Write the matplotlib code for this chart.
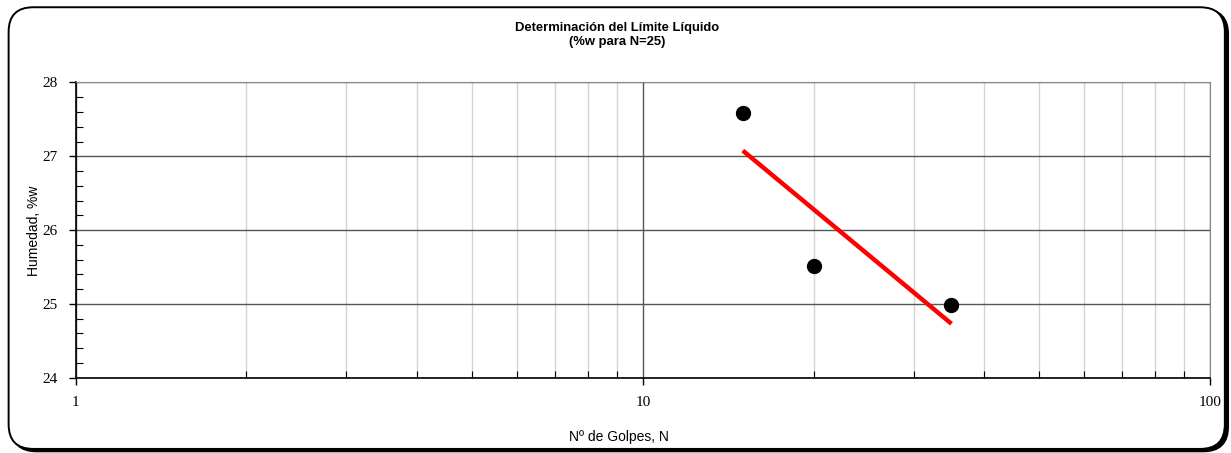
import numpy as np
import matplotlib
matplotlib.use("Agg")
import matplotlib.pyplot as plt
from matplotlib.patches import FancyBboxPatch
from matplotlib.ticker import LogLocator, MultipleLocator, FixedLocator, NullFormatter

# datos del ensayo
golpes = [15, 20, 35]
humedad = [27.58, 25.52, 24.99]

titulo = "Determinación del Límite Líquido\n(%w para N=25)"
x_label = "Nº de Golpes, N"
y_label = "Humedad, %w"

# recta de ajuste en escala log
pend, orden = np.polyfit(np.log10(golpes), humedad, 1)
n_recta = np.array([min(golpes), max(golpes)])
w_recta = pend * np.log10(n_recta) + orden

fig = plt.figure(figsize=(12.31, 4.53), dpi=100)

# marco redondeado del grafico (con sombra abajo/derecha)
sombra = FancyBboxPatch((0.0095, 0.004), 0.988, 0.975, transform=fig.transFigure,
                        boxstyle="round,pad=0,rounding_size=0.02", fc="black",
                        ec="black", lw=1.6, mutation_aspect=1231 / 453, zorder=-2)
marco = FancyBboxPatch((0.007, 0.009), 0.988, 0.975, transform=fig.transFigure,
                       boxstyle="round,pad=0,rounding_size=0.02", fc="white",
                       ec="black", lw=1.4, mutation_aspect=1231 / 453, zorder=-1)
fig.patches.extend([sombra, marco])

ax = fig.add_axes([0.0615, 0.166, 0.9215, 0.652])
ax.set_zorder(1)
ax.patch.set_alpha(0)
ax.set_xscale("log")
ax.set_xlim(1, 100)
ax.set_ylim(24, 28)

ax.xaxis.set_major_locator(FixedLocator([1, 10, 100]))
ax.xaxis.set_minor_locator(LogLocator(base=10, subs=np.arange(2, 10)))
ax.xaxis.set_minor_formatter(NullFormatter())
ax.set_xticklabels(["1", "10", "100"])
ax.yaxis.set_major_locator(MultipleLocator(1))
ax.yaxis.set_minor_locator(MultipleLocator(0.2))

ax.grid(which="major", axis="y", color="#555555", lw=1.0)
ax.grid(which="minor", axis="x", color="#d4d4d4", lw=1.0)
ax.grid(which="major", axis="x", color="#555555", lw=1.0)
ax.set_axisbelow(True)

ax.tick_params(which="major", direction="out", length=5, width=1,
               labelsize=11, pad=8)
ax.tick_params(which="minor", direction="in", length=5, width=0.8)
for lab in ax.get_xticklabels() + ax.get_yticklabels():
    lab.set_family("Liberation Serif")

ax.spines["top"].set_color("#888888")
ax.spines["right"].set_color("#888888")
ax.spines["left"].set_linewidth(1.2)
ax.spines["bottom"].set_linewidth(1.2)

ax.plot(n_recta, w_recta, color="red", lw=3.2, solid_capstyle="butt", zorder=3)
ax.plot(golpes, humedad, "o", color="black", ms=10, zorder=4)

fig.text(0.501, 0.952, titulo, ha="center", va="top", fontsize=9.4,
         fontweight="bold", family="Liberation Sans", linespacing=1.3)
fig.text(0.503, 0.035, x_label, ha="center", va="center", fontsize=10,
         family="Liberation Sans")
fig.text(0.028, 0.49, y_label, ha="center", va="center", rotation=90,
         fontsize=10, family="Liberation Sans")

fig.savefig("out.png", dpi=100)
